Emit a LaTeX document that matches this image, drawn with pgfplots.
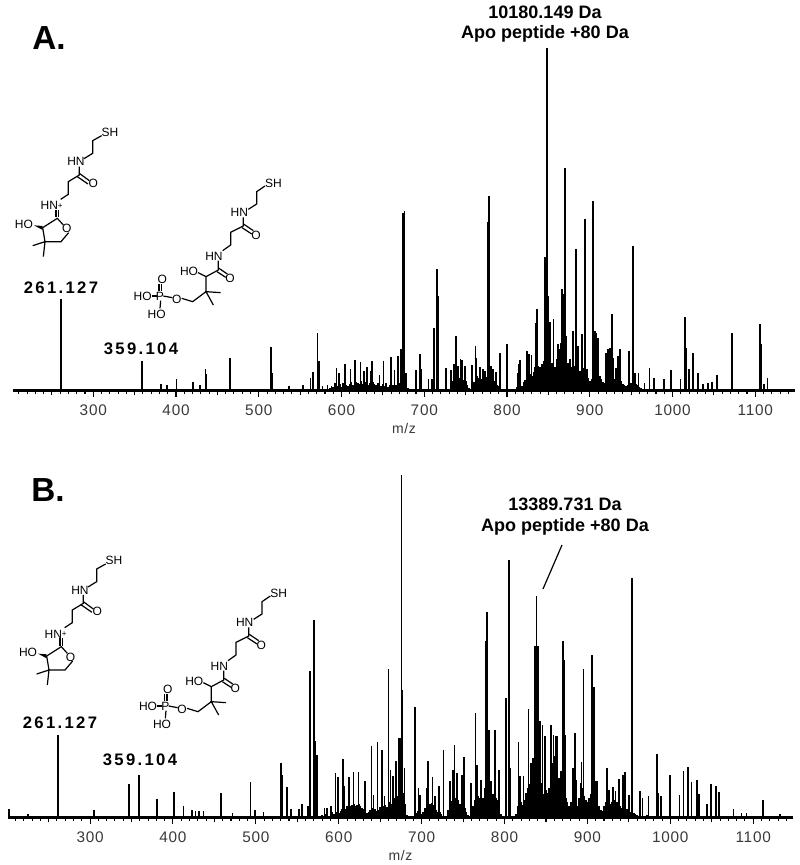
\documentclass[border=0pt]{standalone}
\usepackage{fontspec}
\usepackage{pgfplots}
\pgfplotsset{compat=1.18}
\setmainfont{Liberation Sans}
\newfontfamily\spaced[LetterSpace=14]{Liberation Sans}
\newfontfamily\tickfont[LetterSpace=5]{Liberation Sans}

% peak heights are in image pixels above the baseline (343 = base peak)
\pgfplotsset{
  spec/.style={
    scale only axis, height=257.25pt, ymin=0, ymax=343,
    anchor=south west,
    hide y axis, axis x line*=bottom, clip=false,
    xtick={200,300,...,1200},
    extra x ticks={250,350,450,550,650,750,850,950,1050},
    extra x tick labels={},
    extra x tick style={major tick length=3.2pt},
    minor x tick num=9,
    tick align=outside, tick pos=bottom,
    major tick length=4.2pt, minor tick length=2.4pt,
    every tick/.style={black, line width=0.8pt},
    axis line style={black, line width=1.4pt},
    /pgf/number format/assume math mode=true,
    /pgf/number format/1000 sep={},
    xticklabel style={font=\tickfont\fontsize{11.5}{12}\selectfont, text=black!78, yshift=-2.5pt},
    xlabel={m/z},
    xlabel style={font=\tickfont\fontsize{10.5}{11}\selectfont, text=black!78, yshift=8pt},
  },
  peaks/.style={ycomb, no markers, black, line width=1.25pt},
  cluster/.style={ycomb, no markers, black, line width=1.3pt},
}

\newcommand{\cationstruct}[2]{%
\begin{scope}[x=0.25pt,y=-0.25pt,xshift=#1*0.25pt,yshift=-#2*0.25pt,line width=0.9pt,
  every node/.style={font=\fontsize{9}{10}\selectfont,inner sep=0pt}]
\node at (330,397) {SH};
\draw (305,407)--(278,422)--(278,460)--(252,476);
\node at (228,485) {HN};
\draw (238,500)--(238,525)--(205,545)--(205,583)--(182,598);
\draw (238,520)--(268,542) (232,530)--(264,552);
\node at (280,550) {O};
\node at (155,617) {HN\raisebox{1pt}{\fontsize{6}{6}\selectfont+}};
\draw (168,630)--(168,652) (176,630)--(176,652);
\draw (128,683)--(172,655)--(190,675);
\node at (200,686) {O};
\draw (206,698)--(183,725)--(135,725)--(128,683);
\fill (128,678)--(128,690)--(102,676)--cycle;
\node at (72,672) {HO};
\draw (98,737)--(135,725)--(130,770);
\end{scope}}

\newcommand{\phosphostruct}[2]{%
\begin{scope}[x=0.25pt,y=-0.25pt,xshift=#1*0.25pt,yshift=-#2*0.25pt,line width=0.9pt,
  every node/.style={font=\fontsize{9}{10}\selectfont,inner sep=0pt}]
\node at (820,550) {SH};
\draw (795,558)--(770,575)--(770,612)--(745,628);
\node at (718,638) {HN};
\draw (730,652)--(730,678)--(692,697)--(692,735)--(668,752);
\draw (732,673)--(760,692) (726,683)--(755,702);
\node at (768,705) {O};
\node at (642,768) {HN};
\draw (655,782)--(655,810)--(618,830)--(618,875);
\draw (657,805)--(682,822) (651,815)--(677,832);
\node at (690,835) {O};
\draw (618,830)--(594,818);
\node at (567,815) {HO};
\draw (662,878)--(618,875)--(640,915);
\draw (618,875)--(578,905)--(545,895);
\node at (530,897) {O};
\draw (517,893)--(490,888);
\node at (480,888) {P};
\draw (455,888)--(471,888);
\node at (428,888) {HO};
\draw (477,872)--(477,852) (485,872)--(485,852);
\node at (487,838) {O};
\draw (482,902)--(480,925);
\node at (470,942) {HO};
\end{scope}}

\begin{document}
\begin{tikzpicture}
\useasboundingbox (0,0) rectangle (600pt,648.75pt);

% ---------- panel A
\begin{axis}[spec, at={(9.75pt,355.5pt)}, width=586.5pt, xmin=203, xmax=1148]
\addplot [cluster] table {
586 3
588 5
590 4
592 8
594 6
596 5
598 7
600 4
602 8
604 9
606 6
608 5
610 7
612 9
614 6
616 10
618 9
620 8
622 7
624 10
626 7
628 6
630 9
632 6
634 8
636 12
638 9
640 7
642 6
644 8
646 6
648 5
650 7
652 5
654 6
656 4
658 6
660 5
662 6
664 7
666 6
668 9
670 8
672 12
674 14
678 6
680 3
732 5
734 10
736 13
738 14
740 16
742 13
744 15
746 14
748 11
750 10
752 6
754 3
758 4
760 9
762 12
764 15
766 13
768 14
770 12
772 13
774 10
776 14
778 12
780 12
782 9
784 10
786 7
788 6
790 5
792 6
794 2
812 4
814 6
816 7
818 5
820 9
822 11
824 15
826 12
828 17
830 15
832 19
834 24
836 28
838 25
840 24
842 27
844 30
846 42
848 44
850 38
852 30
854 28
856 27
858 24
860 32
862 36
864 42
866 45
868 40
870 36
872 34
874 28
876 27
878 24
880 22
882 25
884 18
886 16
888 20
890 18
892 23
894 20
896 14
898 13
900 10
902 12
904 18
906 25
908 30
910 24
912 15
914 12
916 9
918 8
920 9
922 12
924 16
926 17
928 15
930 12
932 9
934 11
936 13
938 10
940 7
942 6
944 5
946 6
948 7
950 8
952 9
954 8
956 7
958 6
960 4
962 3
964 2
};
\addplot [black, line width=1.4pt] coordinates {(203,1.4)(1148,1.4)};
\addplot [peaks] table {
261.1 92
359.1 30
381.6 7
389 6
400.7 12
420.5 9
429 6
435.5 22
437 17
465 33
514.5 44
515.7 18
536.7 5
553.7 6
562.6 13
565.5 19
571 58
573 30
577 5
583 6
594 23
597 18
604 27
611 22
616.5 31
623 29
627 20
630.5 24
636 20
637 30
646 16
650.6 30
654 8
659.4 34
664 21
668 35
672 42
674.3 178
676 180
678 18
690 21
695 37
696.4 22
705 12
709 12
711.6 63
715.3 122
716.5 95
726 23
732.5 21
735.7 27
738.5 55
740.5 25
743.8 32
745.8 31
749.4 25
758 26
762 45
763 33
767.5 24
770.7 22
773.5 20
776.7 169
778.3 195
780.3 25
783 22
787 19
791.6 38
800 47
812.9 18
814.5 27
816 31
824 40
826.5 37
829.7 36
834.5 68
836.5 82
846 134
848.2 343
849.8 95
851.8 69
856.2 72
861.8 47
865 48
866.7 102
868.7 97
870.3 223
872 55
876 32
880 60
883 142
886 45
891 57
894.4 172
897 22
904 190
906 60
908 58
910 53
919.7 38
922 42
924.6 43
926.5 77
928 33
931.5 23
934 35
936.5 42
947 40
952.2 145
955 18
959 18
966 8
972.3 23
978 13
989.6 12
998.4 21
1009.6 12
1015.3 74
1016.5 43
1020 22
1025 38
1031 18
1037 7
1043 8
1048 9
1054 16
1071.5 58
1072.3 37
1105.6 67
1106.8 47
1110.4 7
1114.8 13
};
\end{axis}

% ---------- panel B
\begin{axis}[spec, at={(6pt,35.25pt)}, width=588.75pt, xmin=201, xmax=1148]
\addplot [cluster] table {
580 3
583 4
586 5
590 5
592 6
594 4
596 7
598 6
600 5
602 7
604 9
606 8
608 9
610 12
612 10
614 12
616 13
618 14
620 12
622 13
624 14
626 12
628 10
630 9
632 8
634 5
636 6
638 8
640 10
642 8
644 9
646 7
648 8
650 11
652 9
654 12
656 13
658 11
660 14
662 16
664 14
666 18
668 20
670 22
672 28
674 30
676 24
678 25
680 14
682 3
692 3
694 5
696 7
698 5
700 4
702 6
704 10
706 16
708 18
710 14
712 15
714 13
716 10
718 8
720 6
722 6
724 4
732 8
734 14
736 17
738 18
740 20
742 15
744 18
746 14
748 16
750 12
752 10
754 6
756 3
760 4
762 12
764 18
766 20
768 22
770 20
772 24
774 20
776 22
778 25
780 24
782 26
784 22
786 24
788 22
790 20
792 18
794 10
796 4
812 2
814 4
816 12
818 14
820 16
822 13
824 18
826 25
828 30
830 34
832 45
834 60
836 115
838 130
840 115
842 45
844 35
846 24
848 18
850 28
852 25
854 30
856 45
858 55
860 62
862 58
864 52
866 40
868 30
870 22
872 30
874 20
876 16
878 12
880 16
882 25
884 30
886 25
888 12
890 20
892 35
894 30
896 22
898 18
900 16
902 20
904 24
906 30
908 30
910 22
912 18
914 12
916 8
918 7
920 12
922 16
924 20
926 17
928 14
930 16
932 18
934 20
936 16
938 14
940 12
942 10
944 14
946 12
948 9
950 7
952 6
954 6
956 5
958 4
960 3
964 2
968 2
972 3
976 2
980 2
984 5
988 4
992 2
};
\addplot [black, line width=1.4pt] coordinates {(201,1.4)(1148,1.4)};
\addplot [peaks] table {
202.5 9
225 4
261.1 83
304.5 8
347 34
359 43
381 19
401 26
412.6 12
423 8
427 7
431.6 7
437 7
458 25
472 5
493.7 36
499 8
509.4 6
530.4 55
532 43
537.2 31
542 9
552 9
555.8 14
563 12
565 147
570.3 198
572 77
573.5 63
583 10
586 10
591 12
596 45
599 41
605 59
607 32
612.4 41
617.7 46
624 46
631.7 37
639.4 72
642 23
646.6 76
652 68
655 22
660.2 149
662.6 48
665.5 42
669 57
673 80
674.7 80
675.9 343
677 128
679.5 50
691.6 111
696.4 30
698.4 23
706 30
708 57
713 41
716 22
720.9 32
726.5 68
734.5 37
737.7 48
739.8 73
743 45
748.6 43
751 61
759.8 35
765 105
766.7 53
772 38
776 30
778 177
779 206
781 88
784 37
788.4 88
793.2 48
801.6 120
805.2 258
806.8 50
816.9 76
819 42
822.9 42
829 109
832 55
836 172
837 172
838.6 222
840 172
843 97
845.8 93
848.6 82
856 93
859 83
861.4 82
863.5 82
867.9 47
870.3 177
871.9 158
873.5 83
882.3 50
884.7 85
887 38
892.8 56
895.2 149
905.6 163
907.6 131
909 37
911.5 37
923.7 50
926 28
930.5 31
934 27
937.8 39
942.6 43
945.4 46
950 23
953.8 240
963.5 27
966.5 20
973.5 22
984 64
985.5 25
989 22
1000 43
1011 23
1015.7 47
1021.3 51
1025.7 36
1032 38
1034.5 24
1044.6 14
1049 34
1055.4 32
1059 26
1076.3 9
1086 5
1092 5
1111.6 18
1132 4
};
\end{axis}

% ---------- text and structures, in picture pixels (y down)
\begin{scope}[x=0.75pt,y=-0.75pt,yshift=648.75pt]
\node[font=\bfseries\fontsize{25}{26}\selectfont] at (49,38) {A.};
\node[font=\bfseries\fontsize{25}{26}\selectfont] at (48,490) {B.};
\node[font=\spaced\bfseries\fontsize{12.5}{13}\selectfont] at (61,288) {261.127};
\node[font=\spaced\bfseries\fontsize{12.5}{13}\selectfont] at (141,349) {359.104};
\node[font=\spaced\bfseries\fontsize{12.5}{13}\selectfont] at (60,723) {261.127};
\node[font=\spaced\bfseries\fontsize{12.5}{13}\selectfont] at (140,760) {359.104};
\node[font=\bfseries\fontsize{13.5}{14}\selectfont] at (545,12) {10180.149 Da};
\node[font=\bfseries\fontsize{13.5}{14}\selectfont] at (545,34) {Apo peptide +80 Da};
\node[font=\bfseries\fontsize{13.5}{14}\selectfont] at (565,504) {13389.731 Da};
\node[font=\bfseries\fontsize{13.5}{14}\selectfont] at (565,527) {Apo peptide +80 Da};
\draw[line width=0.9pt] (562,545)--(543,589);
\end{scope}
\begin{scope}[yshift=648.75pt]
\cationstruct{0}{0}
\phosphostruct{0}{0}
\cationstruct{12}{1285}
\phosphostruct{16}{1230}
\end{scope}
\end{tikzpicture}
\end{document}
